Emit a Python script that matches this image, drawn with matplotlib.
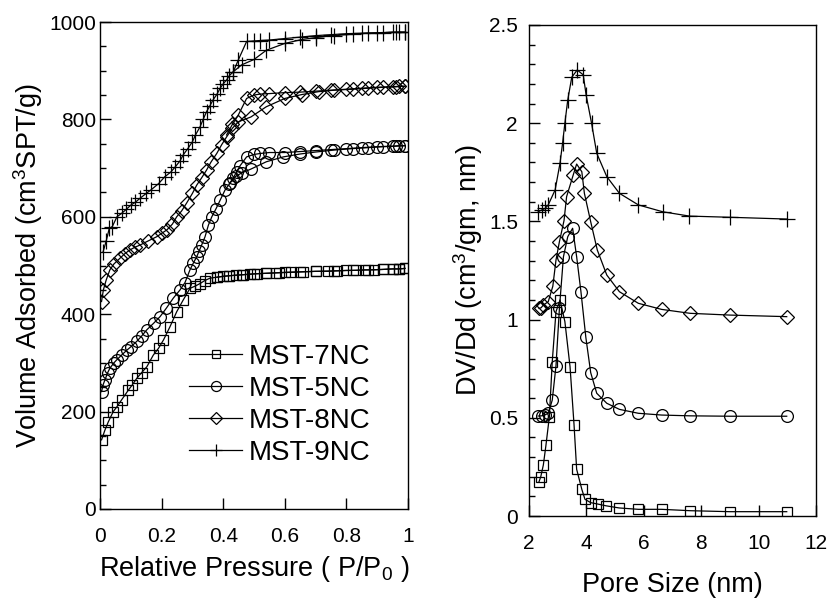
import matplotlib
matplotlib.use("Agg")
import matplotlib.pyplot as plt
from matplotlib.ticker import MultipleLocator

plt.rcParams['font.family'] = ['Liberation Sans', 'DejaVu Sans']
plt.rcParams['mathtext.fontset'] = 'custom'
plt.rcParams['mathtext.rm'] = 'Liberation Sans'
plt.rcParams['mathtext.it'] = 'Liberation Sans'
plt.rcParams['mathtext.default'] = 'regular'

# ---------------- Left panel: isotherms ----------------
labels = ["MST-7NC", "MST-5NC", "MST-8NC", "MST-9NC"]
markers = ["s", "o", "D", "+"]

ads7_p = [0.005, 0.016, 0.027, 0.043, 0.055, 0.07, 0.092, 0.105, 0.119, 0.135, 0.152, 0.173, 0.19, 0.206,
          0.227, 0.249, 0.27, 0.292, 0.31, 0.325, 0.34, 0.357, 0.38, 0.4, 0.42, 0.44, 0.465, 0.487, 0.51,
          0.54, 0.57, 0.6, 0.65, 0.7, 0.76, 0.82, 0.87, 0.92, 0.95, 0.97, 0.99]
ads7_v = [142, 162, 179, 200, 210, 224, 244, 255, 268, 280, 292, 316, 330, 347,
          374, 405, 429, 453, 458, 463, 469, 474, 476, 478, 479, 480, 481, 482, 483,
          484, 485, 486, 487, 488, 489, 490, 491, 492, 493, 493, 494]
des7_p = [0.99, 0.97, 0.95, 0.92, 0.89, 0.86, 0.83, 0.8, 0.77, 0.74, 0.7, 0.66, 0.62, 0.58, 0.54,
          0.5, 0.46, 0.42, 0.38]
des7_v = [494, 493, 493, 492, 491, 491, 490, 490, 489, 488, 488, 487, 486, 485, 484,
          483, 481, 479, 476]

ads5_p = [0.005, 0.01, 0.016, 0.025, 0.032, 0.045, 0.054, 0.07, 0.087, 0.1, 0.119, 0.135, 0.152, 0.175,
          0.195, 0.215, 0.238, 0.26, 0.276, 0.292, 0.303, 0.314, 0.322, 0.33, 0.341, 0.352, 0.363, 0.377,
          0.39, 0.406, 0.422, 0.44, 0.46, 0.49, 0.54, 0.595, 0.65, 0.7, 0.76, 0.82, 0.87, 0.92, 0.96, 0.99]
ads5_v = [241, 255, 265, 280, 289, 300, 306, 316, 326, 333, 344, 355, 368, 382,
          395, 412, 433, 450, 465, 491, 505, 518, 530, 542, 559, 583, 600, 617,
          634, 655, 669, 683, 690, 698, 713, 723, 729, 733, 737, 740, 742, 744, 745, 746]
des5_p = [0.99, 0.97, 0.95, 0.9, 0.85, 0.8, 0.75, 0.7, 0.65, 0.6, 0.55, 0.52, 0.5, 0.476,
          0.455, 0.444, 0.433, 0.42]
des5_v = [746, 746, 745, 744, 742, 740, 738, 736, 734, 732, 732, 730, 728, 723,
          705, 693, 680, 668]

ads8_p = [0.005, 0.011, 0.02, 0.032, 0.045, 0.065, 0.08, 0.097, 0.115, 0.13, 0.155, 0.184, 0.2, 0.217,
          0.235, 0.249, 0.265, 0.281, 0.3, 0.314, 0.33, 0.346, 0.36, 0.379, 0.395, 0.411, 0.43, 0.449,
          0.49, 0.54, 0.6, 0.655, 0.71, 0.76, 0.82, 0.87, 0.92, 0.96, 0.99]
ads8_v = [426, 450, 470, 491, 503, 515, 524, 532, 538, 542, 550, 559, 566, 573,
          585, 600, 612, 628, 648, 665, 680, 696, 712, 730, 748, 764, 782, 795,
          805, 826, 843, 851, 857, 860, 862, 864, 866, 867, 868]
des8_p = [0.99, 0.97, 0.95, 0.9, 0.85, 0.8, 0.75, 0.7, 0.65, 0.6, 0.55, 0.52, 0.5, 0.476,
          0.449, 0.43, 0.411]
des8_v = [868, 868, 867, 866, 864, 862, 860, 858, 856, 855, 853, 852, 850, 843,
          809, 790, 768]

ads9_p = [0.01, 0.02, 0.03, 0.04, 0.055, 0.07, 0.085, 0.1, 0.115, 0.13, 0.15, 0.165, 0.19, 0.21,
          0.23, 0.245, 0.26, 0.27, 0.285, 0.3, 0.31, 0.325, 0.335, 0.346, 0.357, 0.367, 0.38, 0.39,
          0.4, 0.411, 0.42, 0.433, 0.46, 0.5, 0.54, 0.6, 0.655, 0.7, 0.76, 0.82, 0.87, 0.92, 0.96, 0.99]
ads9_v = [528, 550, 576, 580, 600, 607, 615, 624, 630, 638, 648, 655, 668, 682,
          692, 703, 715, 727, 740, 754, 768, 785, 800, 816, 828, 840, 852, 864,
          873, 881, 890, 898, 912, 923, 942, 956, 964, 968, 972, 975, 977, 978, 979, 979]
des9_p = [0.99, 0.97, 0.95, 0.9, 0.85, 0.8, 0.75, 0.7, 0.65, 0.6, 0.55, 0.52, 0.5, 0.476,
          0.449, 0.433]
des9_v = [979, 979, 979, 978, 977, 976, 974, 972, 969, 966, 963, 962, 961, 960,
          922, 898]

iso_ads = [(ads7_p, ads7_v), (ads5_p, ads5_v), (ads8_p, ads8_v), (ads9_p, ads9_v)]
iso_des = [(des7_p, des7_v), (des5_p, des5_v), (des8_p, des8_v), (des9_p, des9_v)]

# ---------------- Right panel: pore size distribution ----------------
psd7_d = [2.35, 2.41, 2.5, 2.59, 2.71, 2.81, 2.94, 3.08, 3.25, 3.43, 3.57, 3.66, 3.84, 3.95,
          4.15, 4.39, 4.68, 5.14, 5.81, 6.62, 7.61, 9.0, 10.98]
psd7_v = [0.175, 0.2, 0.26, 0.36, 0.506, 0.786, 1.04, 1.1, 0.99, 0.76, 0.463, 0.238, 0.136, 0.085,
          0.068, 0.061, 0.052, 0.041, 0.034, 0.034, 0.027, 0.022, 0.022]

psd5_d = [2.32, 2.44, 2.56, 2.67, 2.81, 2.94, 3.06, 3.2, 3.35, 3.52, 3.66, 3.81, 3.98, 4.15,
          4.36, 4.71, 5.15, 5.81, 6.62, 7.61, 9.0, 10.98]
psd5_v = [0.509, 0.51, 0.515, 0.523, 0.59, 0.764, 1.057, 1.32, 1.422, 1.465, 1.32, 1.142, 0.91, 0.73,
          0.625, 0.574, 0.543, 0.523, 0.514, 0.51, 0.508, 0.508]

psd8_d = [2.35, 2.42, 2.5, 2.67, 2.83, 2.94, 3.06, 3.22, 3.31, 3.54, 3.66, 3.84, 3.93, 4.15,
          4.38, 4.71, 5.15, 5.81, 6.62, 7.61, 9.0, 10.98]
psd8_v = [1.057, 1.06, 1.074, 1.091, 1.17, 1.303, 1.397, 1.504, 1.626, 1.736, 1.792, 1.753, 1.643, 1.498,
          1.354, 1.227, 1.142, 1.083, 1.052, 1.032, 1.023, 1.015]

psd9_d = [2.32, 2.44, 2.56, 2.67, 2.91, 3.08, 3.17, 3.25, 3.35, 3.49, 3.68, 3.89, 3.99, 4.18,
          4.36, 4.71, 5.15, 5.81, 6.66, 7.59, 9.0, 10.98]
psd9_v = [1.549, 1.558, 1.566, 1.584, 1.66, 1.796, 1.898, 2.0, 2.118, 2.234, 2.271, 2.246, 2.144, 2.0,
          1.847, 1.728, 1.643, 1.584, 1.549, 1.527, 1.521, 1.512]

psd = [(psd7_d, psd7_v), (psd5_d, psd5_v), (psd8_d, psd8_v), (psd9_d, psd9_v)]

msizes = {"s": 7, "o": 8.5, "D": 7, "+": 11}

fig = plt.figure(figsize=(8.33, 6.03), dpi=100)
ax1 = fig.add_axes([100/833, 1-509/603, 308/833, 487/603])
ax2 = fig.add_axes([529/833, 1-516/603, 287/833, 491/603])

for (ap, av), (dp, dv), lab, m in zip(iso_ads, iso_des, labels, markers):
    kw = dict(color='black', lw=0.9, marker=m, ms=msizes[m], mfc='none', mec='black', mew=0.9)
    ax1.plot(ap, av, label=lab, **kw)
    ax1.plot(dp, dv, **kw)

for (d, v), m in zip(psd, markers):
    ax2.plot(d, v, color='black', lw=0.9, marker=m, ms=msizes[m], mfc='none', mec='black', mew=0.9)

ax1.set_xlim(0, 1)
ax1.set_ylim(0, 1000)
ax1.yaxis.set_major_locator(MultipleLocator(200))
ax1.yaxis.set_minor_locator(MultipleLocator(50))
ax1.set_xticks([0, 0.2, 0.4, 0.6, 0.8, 1.0])
ax1.set_xticklabels(["0", "0.2", "0.4", "0.6", "0.8", "1"])

ax2.set_xlim(2, 12)
ax2.set_ylim(0, 2.5)
ax2.xaxis.set_major_locator(MultipleLocator(2))
ax2.yaxis.set_minor_locator(MultipleLocator(0.1))
ax2.set_yticks([0, 0.5, 1.0, 1.5, 2.0, 2.5])
ax2.set_yticklabels(["0", "0.5", "1", "1.5", "2", "2.5"])

for ax in (ax1, ax2):
    ax.tick_params(which='both', direction='in', top=False, right=False, labelsize=15, width=1.0)
    ax.tick_params(which='major', length=8)
    ax.tick_params(which='minor', length=4)
    ax.tick_params(axis='x', which='major', pad=13)
    for s in ax.spines.values():
        s.set_linewidth(1.0)
ax1.tick_params(axis='y', which='major', pad=3)
ax2.tick_params(axis='y', which='major', pad=8)

ax1.set_xlabel("Relative Pressure ( P/P$_{0}$ )", fontsize=19.5, labelpad=6)
ax1.set_ylabel("Volume Adsorbed (cm$^{3}$SPT/g)", fontsize=19.5, labelpad=3)
ax2.set_xlabel("Pore Size (nm)", fontsize=19.5, labelpad=14)
ax2.set_ylabel("DV/Dd (cm$^{3}$/gm, nm)", fontsize=19.5, labelpad=3)

leg = ax1.legend(loc='center left', bbox_to_anchor=(0.29, 0.214), frameon=False, fontsize=20,
                 handlelength=1.9, handletextpad=0.25, labelspacing=0.22, borderpad=0, borderaxespad=0,
                 markerscale=0.85)

fig.savefig("out.png", dpi=100)
